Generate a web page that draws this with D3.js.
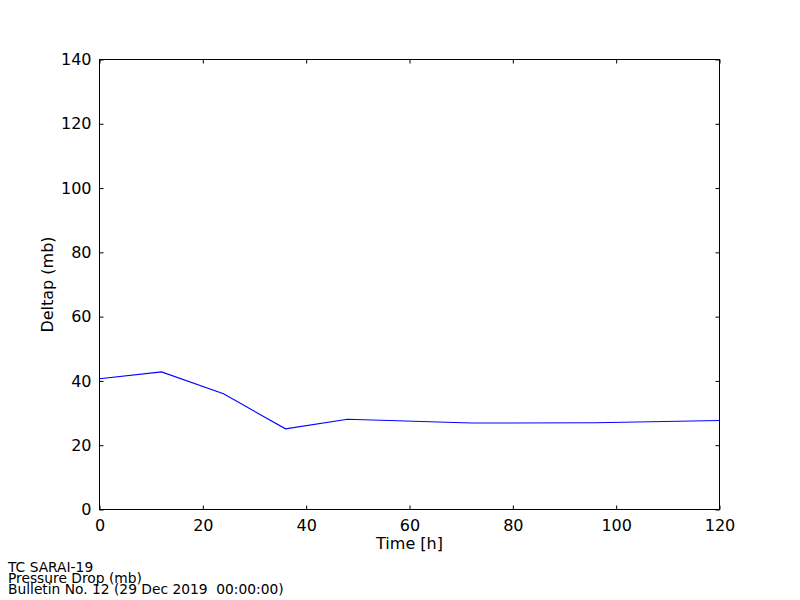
<!DOCTYPE html>
<html><head><meta charset="utf-8">
<script src="https://cdn.jsdelivr.net/npm/d3@7"></script>
<style>body{margin:0;background:#fff}svg{display:block;font-family:"DejaVu Sans",sans-serif}</style>
</head><body>
<svg id="c" width="800" height="600"></svg>
<script>
const hours = [0, 12, 24, 36, 48, 72, 96, 120];
const deltap = [40.7, 42.8, 36.0, 25.1, 28.1, 26.9, 27.0, 27.7];
const xTicks = [0, 20, 40, 60, 80, 100, 120];
const yTicks = [0, 20, 40, 60, 80, 100, 120, 140];
const footer = ["TC SARAI-19", "Pressure Drop (mb)", "Bulletin No. 12 (29 Dec 2019  00:00:00)"];

const svg = d3.select("#c");
svg.append("rect").attr("width",800).attr("height",600).attr("fill","#fff");
const L=99.5,R=719.5,T=59.5,B=509.5;
const x=d3.scaleLinear().domain([0,120]).range([L,R]);
const y=d3.scaleLinear().domain([0,140]).range([B,T]);

function styleAxis(g,hide){g.select(".domain").remove();g.selectAll("line").attr("stroke","#000");g.selectAll("text").attr("font-size","16px").attr("fill","#000").attr("font-family","DejaVu Sans");if(hide)g.selectAll("text").remove();}
svg.append("g").attr("transform",`translate(0,${B})`).call(d3.axisBottom(x).tickValues(xTicks).tickSizeInner(-4).tickSizeOuter(0).tickPadding(10)).call(g=>styleAxis(g,false));
svg.append("g").attr("transform",`translate(0,${T})`).call(d3.axisTop(x).tickValues(xTicks).tickSizeInner(-4).tickSizeOuter(0)).call(g=>styleAxis(g,true));
svg.append("g").attr("transform",`translate(${L},0)`).call(d3.axisLeft(y).tickValues(yTicks).tickSizeInner(-4).tickSizeOuter(0).tickPadding(8)).call(g=>styleAxis(g,false));
svg.append("g").attr("transform",`translate(${R},0)`).call(d3.axisRight(y).tickValues(yTicks).tickSizeInner(-4).tickSizeOuter(0)).call(g=>styleAxis(g,true));

const line=d3.line().x((d,i)=>x(hours[i])).y(d=>y(d));
svg.append("path").datum(deltap).attr("d",line).attr("fill","none").attr("stroke","#0000ff").attr("stroke-width",1.1);

svg.append("rect").attr("x",L).attr("y",T).attr("width",R-L).attr("height",B-T).attr("fill","none").attr("stroke","#000").attr("stroke-width",1);

svg.append("text").attr("x",(L+R)/2).attr("y",549).attr("text-anchor","middle").attr("font-size","16px").text("Time [h]");
svg.append("text").attr("transform",`translate(53,${(T+B)/2}) rotate(-90)`).attr("text-anchor","middle").attr("font-size","16px").text("Deltap (mb)");

footer.forEach((t,i)=>svg.append("text").attr("x",8).attr("y",571.5+i*11.3).attr("font-size","13.8px").style("white-space","pre").text(t));
</script>
</body></html>
